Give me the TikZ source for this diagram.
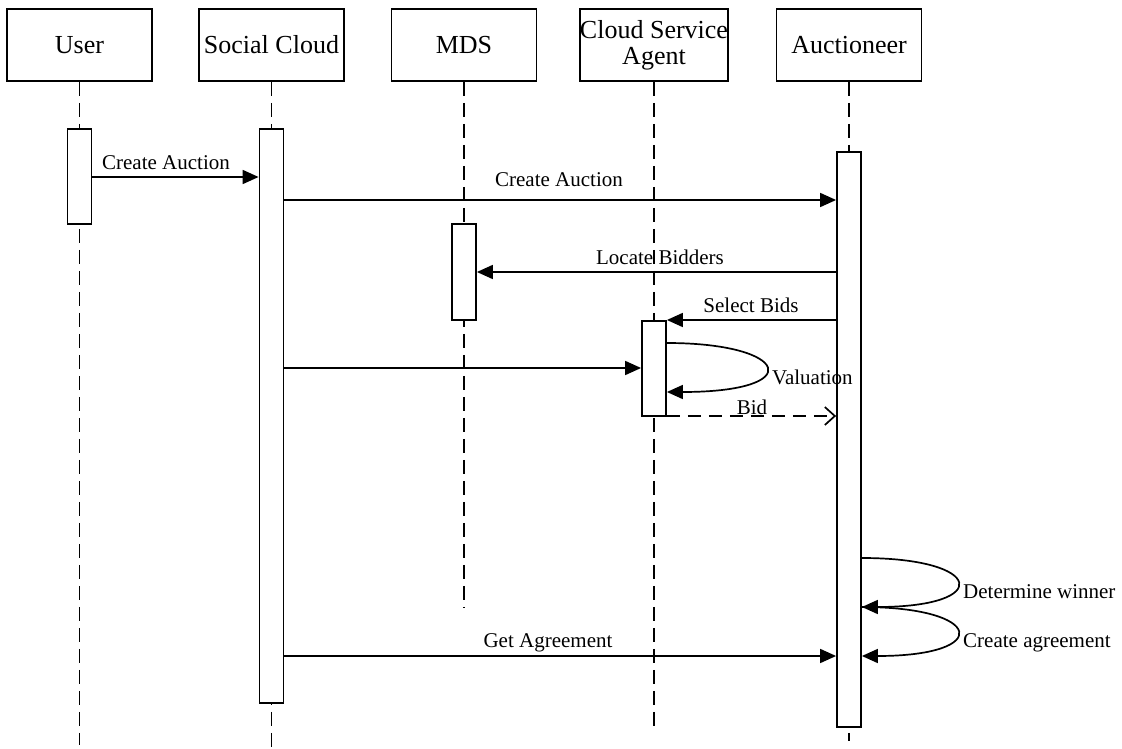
\documentclass[tikz,border=0pt]{standalone}
\usepackage{fontspec}
\setmainfont{Liberation Serif}
\usetikzlibrary{arrows.meta}
\begin{document}
\begin{tikzpicture}[x=1pt,y=-1pt,
  head/.style={draw, line width=1.8pt, minimum width=145pt, minimum height=72pt, inner sep=0pt, align=center, font=\fontsize{26}{26}\selectfont},
  life/.style={line width=1.6pt, dash pattern=on 14pt off 7pt},
  act/.style={draw, fill=white, line width=1.8pt, minimum width=24pt, inner sep=0pt},
  msg/.style={line width=1.7pt, -{Triangle[length=16pt,width=14pt]}},
  ret/.style={line width=1.7pt, dash pattern=on 13pt off 8pt, -{Straight Barb[length=10pt,width=18pt]}},
  lbl/.style={font=\fontsize{21}{21}\selectfont, inner sep=0pt}
]
\useasboundingbox (0,0) rectangle (1122,749);
% headers
\node[head] (user) at (79.5,45) {User};
\node[head] (soc) at (271.5,45) {Social Cloud};
\node[head] (mds) at (464,45) {MDS};
\node[head] (csa) at (654,45) {Cloud Service\\Agent};
\node[head] (auc) at (849,45) {Auctioneer};
% lifeline ends
\coordinate (userend) at (79.5,745);
\coordinate (socend) at (271.5,749);
\coordinate (mdsend) at (464,608);
\coordinate (csaend) at (654,728);
\coordinate (aucend) at (849,741);
\draw[life] (user.south) -- (userend);
\draw[life] (soc.south) -- (socend);
\draw[life] (mds.south) -- (mdsend);
\draw[life] (csa.south) -- (csaend);
\draw[life] (auc.south) -- (aucend);
% activations
\node[act, minimum height=95pt] (uact) at (79.5,176.5) {};
\node[act, minimum height=574pt] (sact) at (271.5,416) {};
\node[act, minimum height=96pt] (mact) at (464,272) {};
\node[act, minimum height=95pt] (cact) at (654,368.5) {};
\node[act, minimum height=575pt] (aact) at (849,439.5) {};
% messages
\draw[msg] (uact.east |- 0,177) -- (sact.west |- 0,177);
\node[lbl, anchor=base] (l1) at (166,170) {Create Auction};
\draw[msg] (sact.east |- 0,200) -- (aact.west |- 0,200);
\node[lbl, anchor=base] (l2) at (559,186) {Create Auction};
\draw[msg] (aact.west |- 0,272) -- (mact.east |- 0,272);
\node[lbl, anchor=base] (l3) at (660,264) {Locate Bidders};
\draw[msg] (aact.west |- 0,320) -- (cact.east |- 0,320);
\node[lbl, anchor=base] (l4) at (751,312) {Select Bids};
\draw[msg] (sact.east |- 0,368) -- (cact.west |- 0,368);
\draw[msg] (cact.east |- 0,343) .. controls (790,343) and (808,392) .. (cact.east |- 0,392);
\node[lbl, anchor=base west] (l5) at (772,384) {Valuation};
\draw[ret] (cact.east |- 0,416) -- (aact.west |- 0,416);
\node[lbl, anchor=base] (l6) at (752,414) {Bid};
\draw[msg] (aact.east |- 0,558) .. controls (985,558) and (993,607) .. (aact.east |- 0,607);
\node[lbl, anchor=base west] (l7) at (963,598) {Determine winner};
\draw[msg] (aact.east |- 0,607) .. controls (985,607) and (993,656) .. (aact.east |- 0,656);
\node[lbl, anchor=base west] (l8) at (963,647) {Create agreement};
\draw[msg] (sact.east |- 0,656) -- (aact.west |- 0,656);
\node[lbl, anchor=base] (l9) at (548,647) {Get Agreement};
\end{tikzpicture}
\end{document}
